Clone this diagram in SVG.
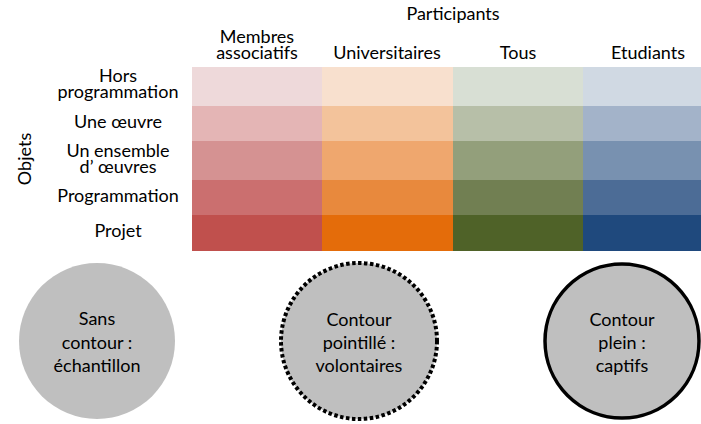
<svg xmlns="http://www.w3.org/2000/svg" width="701" height="424" viewBox="0 0 701 424">
<style>
text{font-family:Lato,"Liberation Sans",sans-serif;font-size:18px;fill:#000;text-anchor:middle}
.circ{fill:#bfbfbf}
.dot{stroke:#000;stroke-width:4;stroke-dasharray:3.5 2.5}
.solid{stroke:#000;stroke-width:3.5}
</style>
<rect width="701" height="424" fill="#fff"/>
<g id="title"><text x="453" y="20">Participants</text></g>
<g id="axis-objets"><text transform="translate(31 159) rotate(-90)">Objets</text></g>
<g id="col-headers">
<text x="257" y="43">Membres<tspan x="257" y="59">associatifs</tspan></text>
<text x="387" y="59">Universitaires</text>
<text x="518" y="59">Tous</text>
<text x="648" y="59">Etudiants</text>
</g>
<g id="row-labels">
<text x="118" y="82">Hors<tspan x="118" y="98">programmation</tspan></text>
<text x="118" y="128">Une œuvre</text>
<text x="118" y="157">Un ensemble<tspan x="118" y="173">d’ œuvres</tspan></text>
<text x="118" y="202">Programmation</text>
<text x="118" y="237">Projet</text>
</g>
<g id="col-membres">
<rect x="192" y="67" width="130" height="39" fill="#eed9da"/>
<rect x="192" y="106" width="130" height="35" fill="#e4b5b5"/>
<rect x="192" y="141" width="130" height="39" fill="#d59292"/>
<rect x="192" y="180" width="130" height="35" fill="#cb6f6f"/>
<rect x="192" y="215" width="130" height="36" fill="#c0504d"/>
</g>
<g id="col-universitaires">
<rect x="322" y="67" width="131" height="39" fill="#f8e0ce"/>
<rect x="322" y="106" width="131" height="35" fill="#f3c39b"/>
<rect x="322" y="141" width="131" height="39" fill="#efa76e"/>
<rect x="322" y="180" width="131" height="35" fill="#e8893d"/>
<rect x="322" y="215" width="131" height="36" fill="#e46c0a"/>
</g>
<g id="col-tous">
<rect x="453" y="67" width="130" height="39" fill="#d8dfd4"/>
<rect x="453" y="106" width="130" height="35" fill="#b7bfa8"/>
<rect x="453" y="141" width="130" height="39" fill="#939f7b"/>
<rect x="453" y="180" width="130" height="35" fill="#717f52"/>
<rect x="453" y="215" width="130" height="36" fill="#4f6228"/>
</g>
<g id="col-etudiants">
<rect x="583" y="67" width="130" height="39" fill="#d0d9e3"/>
<rect x="583" y="106" width="130" height="35" fill="#a3b3c9"/>
<rect x="583" y="141" width="130" height="39" fill="#7891b0"/>
<rect x="583" y="180" width="130" height="35" fill="#4c6c96"/>
<rect x="583" y="215" width="130" height="36" fill="#1f497d"/>
</g>
<g id="legend-echantillon">
<circle class="circ" cx="97" cy="341" r="78"/>
<text x="97" y="325">Sans<tspan x="97" y="349">contour :</tspan><tspan x="97" y="372">échantillon</tspan></text>
</g>
<g id="legend-volontaires">
<circle class="circ dot" cx="359" cy="341" r="78"/>
<text x="359" y="326">Contour<tspan x="359" y="349">pointillé :</tspan><tspan x="359" y="372">volontaires</tspan></text>
</g>
<g id="legend-captifs">
<circle class="circ solid" cx="622" cy="341" r="77"/>
<text x="622" y="326">Contour<tspan x="622" y="349">plein :</tspan><tspan x="622" y="372">captifs</tspan></text>
</g>
</svg>
